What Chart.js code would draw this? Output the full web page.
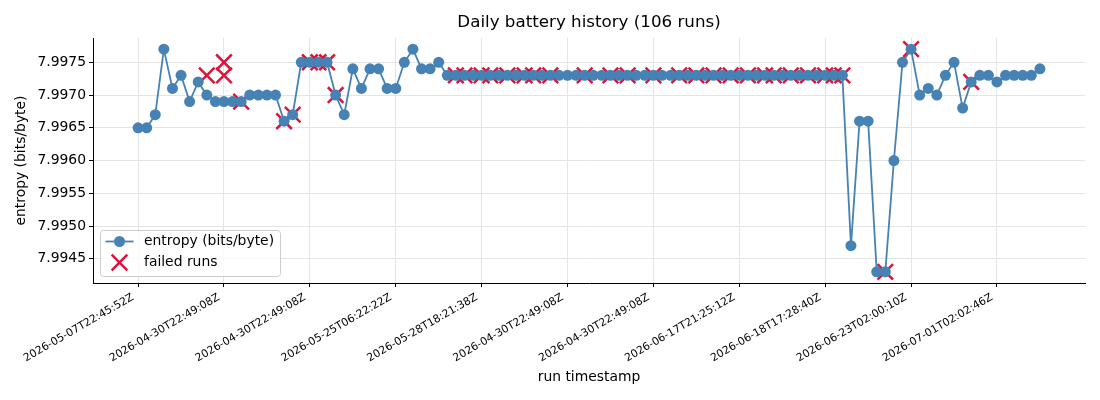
<!DOCTYPE html>
<html>
<head>
<meta charset="utf-8">
<title>Daily battery history</title>
<script src="https://cdn.jsdelivr.net/npm/chart.js@4.4.1/dist/chart.umd.min.js"></script>
<style>
  html, body { margin: 0; padding: 0; background: #fff; }
  #chart { display: block; }
</style>
</head>
<body>
<canvas id="chart" width="1100" height="400"></canvas>
<script>
// tick labels on x axis (every 10th run)
const tickIndex = [0, 10, 20, 30, 40, 50, 60, 70, 80, 90, 100];
const tickLabels = [
    '2026-05-07T22:45:52Z', '2026-04-30T22:49:08Z', '2026-04-30T22:49:08Z',
    '2026-05-25T06:22:22Z', '2026-05-28T18:21:38Z', '2026-04-30T22:49:08Z',
    '2026-04-30T22:49:08Z', '2026-06-17T21:25:12Z', '2026-06-18T17:28:40Z',
    '2026-06-23T02:00:10Z', '2026-07-01T02:02:46Z'
];
const yTicks = [7.9945, 7.9950, 7.9955, 7.9960, 7.9965, 7.9970, 7.9975];

// entropy per run, 106 runs
const entropy = [
    7.9965, 7.9965, 7.9967, 7.9977, 7.9971, 7.9973, 7.9969, 7.9972, 7.9970, 7.9969,
    7.9969, 7.9969, 7.9969, 7.9970, 7.9970, 7.9970, 7.9970, 7.9966, 7.9967, 7.9975,
    7.9975, 7.9975, 7.9975, 7.9970, 7.9967, 7.9974, 7.9971, 7.9974, 7.9974, 7.9971,
    7.9971, 7.9975, 7.9977, 7.9974, 7.9974, 7.9975, 7.9973, 7.9973, 7.9973, 7.9973,
    7.9973, 7.9973, 7.9973, 7.9973, 7.9973, 7.9973, 7.9973, 7.9973, 7.9973, 7.9973,
    7.9973, 7.9973, 7.9973, 7.9973, 7.9973, 7.9973, 7.9973, 7.9973, 7.9973, 7.9973,
    7.9973, 7.9973, 7.9973, 7.9973, 7.9973, 7.9973, 7.9973, 7.9973, 7.9973, 7.9973,
    7.9973, 7.9973, 7.9973, 7.9973, 7.9973, 7.9973, 7.9973, 7.9973, 7.9973, 7.9973,
    7.9973, 7.9973, 7.9973, 7.9947, 7.9966, 7.9966, 7.9943, 7.9943, 7.9960, 7.9975,
    7.9977, 7.9970, 7.9971, 7.9970, 7.9973, 7.9975, 7.9968, 7.9972, 7.9973, 7.9973,
    7.9972, 7.9973, 7.9973, 7.9973, 7.9973, 7.9974
];

// failed runs: position on the run axis and entropy value
const failedIdx = [
    8, 10, 10, 12, 17, 18, 20, 21, 22, 23,
    37, 38, 40, 41, 43, 45, 46, 48, 52, 55, 57, 60, 63, 65, 67, 69, 71, 73, 74, 76, 78, 80, 81, 82,
    87, 90, 97
];
const failedVal = [
    7.9973, 7.9975, 7.9973, 7.9969, 7.9966, 7.9967, 7.9975, 7.9975, 7.9975, 7.9970,
    7.9973, 7.9973, 7.9973, 7.9973, 7.9973, 7.9973, 7.9973, 7.9973, 7.9973, 7.9973, 7.9973, 7.9973,
    7.9973, 7.9973, 7.9973, 7.9973, 7.9973, 7.9973, 7.9973, 7.9973, 7.9973, 7.9973, 7.9973, 7.9973,
    7.9943, 7.9977, 7.9972
];

const FONT = "'DejaVu Sans', sans-serif";
const LINE_COLOR = '#4682b4';
const FAIL_COLOR = '#dc143c';
const GRID_COLOR = '#e4e4e4';

// legend drawn inside the plot, lower left (like matplotlib)
const insideLegend = {
    id: 'insideLegend',
    afterDraw(chart) {
        const ctx = chart.ctx;
        const ca = chart.chartArea;
        const x = ca.left + 7.5;
        const w = 180, h = 46;
        const y = ca.bottom - 6.5 - h;
        ctx.save();
        ctx.beginPath();
        ctx.roundRect(x, y, w, h, 3);
        ctx.fillStyle = 'rgba(255,255,255,0.8)';
        ctx.fill();
        ctx.strokeStyle = '#cccccc';
        ctx.lineWidth = 1;
        ctx.stroke();

        // row 1: line + circle
        const r1 = y + 11;
        ctx.strokeStyle = LINE_COLOR;
        ctx.lineWidth = 1.8;
        ctx.beginPath();
        ctx.moveTo(x + 5, r1);
        ctx.lineTo(x + 33, r1);
        ctx.stroke();
        ctx.fillStyle = LINE_COLOR;
        ctx.beginPath();
        ctx.arc(x + 19, r1, 5.5, 0, Math.PI * 2);
        ctx.fill();

        // row 2: red x
        const r2 = y + 32;
        const d = 7.8;
        ctx.strokeStyle = FAIL_COLOR;
        ctx.lineWidth = 2.5;
        ctx.beginPath();
        ctx.moveTo(x + 19 - d, r2 - d);
        ctx.lineTo(x + 19 + d, r2 + d);
        ctx.moveTo(x + 19 - d, r2 + d);
        ctx.lineTo(x + 19 + d, r2 - d);
        ctx.stroke();

        ctx.fillStyle = '#000';
        ctx.font = '13.9px ' + FONT;
        ctx.textBaseline = 'middle';
        ctx.textAlign = 'left';
        ctx.fillText('entropy (bits/byte)', x + 43.5, r1);
        ctx.fillText('failed runs', x + 43.5, r2);
        ctx.restore();
    }
};

const ctx = document.getElementById('chart').getContext('2d');
const chart = new Chart(ctx, {
    type: 'line',
    data: {
        datasets: [{
            label: 'entropy (bits/byte)',
            data: entropy.map((v, i) => ({ x: i, y: v })),
            borderColor: LINE_COLOR,
            backgroundColor: LINE_COLOR,
            borderWidth: 1.8,
            pointRadius: 5.5,
            pointHoverRadius: 5.5,
            pointBorderWidth: 0,
            pointBackgroundColor: LINE_COLOR,
            tension: 0,
            order: 0
        }, {
            label: 'failed runs',
            data: failedIdx.map((v, i) => ({ x: v, y: failedVal[i] })),
            showLine: false,
            pointStyle: 'crossRot',
            pointRadius: 11,
            pointHoverRadius: 11,
            borderColor: FAIL_COLOR,
            backgroundColor: FAIL_COLOR,
            pointBorderWidth: 2.5,
            borderWidth: 2.5,
            order: 1
        }]
    },
    options: {
        responsive: false,
        animation: false,
        layout: { padding: { left: 0, right: 15, top: 0, bottom: 0 } },
        plugins: {
            legend: { display: false },
            tooltip: { enabled: false },
            title: {
                display: true,
                fullSize: false,
                text: 'Daily battery history (106 runs)',
                color: '#000',
                font: { family: FONT, size: 16.7, weight: 'normal' },
                padding: { top: 13, bottom: 5 }
            }
        },
        scales: {
            x: {
                type: 'linear',
                min: -5.25,
                max: 110.25,
                afterBuildTicks(scale) {
                    scale.ticks = tickIndex.map(v => ({ value: v }));
                },
                afterFit(scale) {
                    scale.height = 117;
                },
                ticks: {
                    autoSkip: false,
                    minRotation: 30,
                    maxRotation: 30,
                    padding: 4,
                    labelOffset: -5,
                    color: '#000',
                    font: { family: FONT, size: 10.8 },
                    callback: (v, i) => tickLabels[i]
                },
                grid: {
                    color: GRID_COLOR,
                    lineWidth: 1,
                    tickColor: '#000',
                    tickLength: 4
                },
                border: { color: '#000', width: 1 },
                title: {
                    display: true,
                    text: 'run timestamp',
                    color: '#000',
                    font: { family: FONT, size: 13.9 },
                    padding: { top: 0, bottom: 14.7 }
                }
            },
            y: {
                min: 7.99413,
                max: 7.99787,
                afterBuildTicks(scale) {
                    scale.ticks = yTicks.map(v => ({ value: v }));
                },
                afterFit(scale) {
                    scale.width = 93;
                },
                ticks: {
                    padding: 3,
                    color: '#000',
                    font: { family: FONT, size: 13.9 },
                    callback: v => v.toFixed(4)
                },
                grid: {
                    color: GRID_COLOR,
                    lineWidth: 1,
                    tickColor: '#000',
                    tickLength: 4
                },
                border: { color: '#000', width: 1 },
                title: {
                    display: true,
                    text: 'entropy (bits/byte)',
                    color: '#000',
                    font: { family: FONT, size: 13.9 },
                    padding: { top: 12.7, bottom: 0 }
                }
            }
        }
    },
    plugins: [insideLegend]
});
</script>
</body>
</html>
